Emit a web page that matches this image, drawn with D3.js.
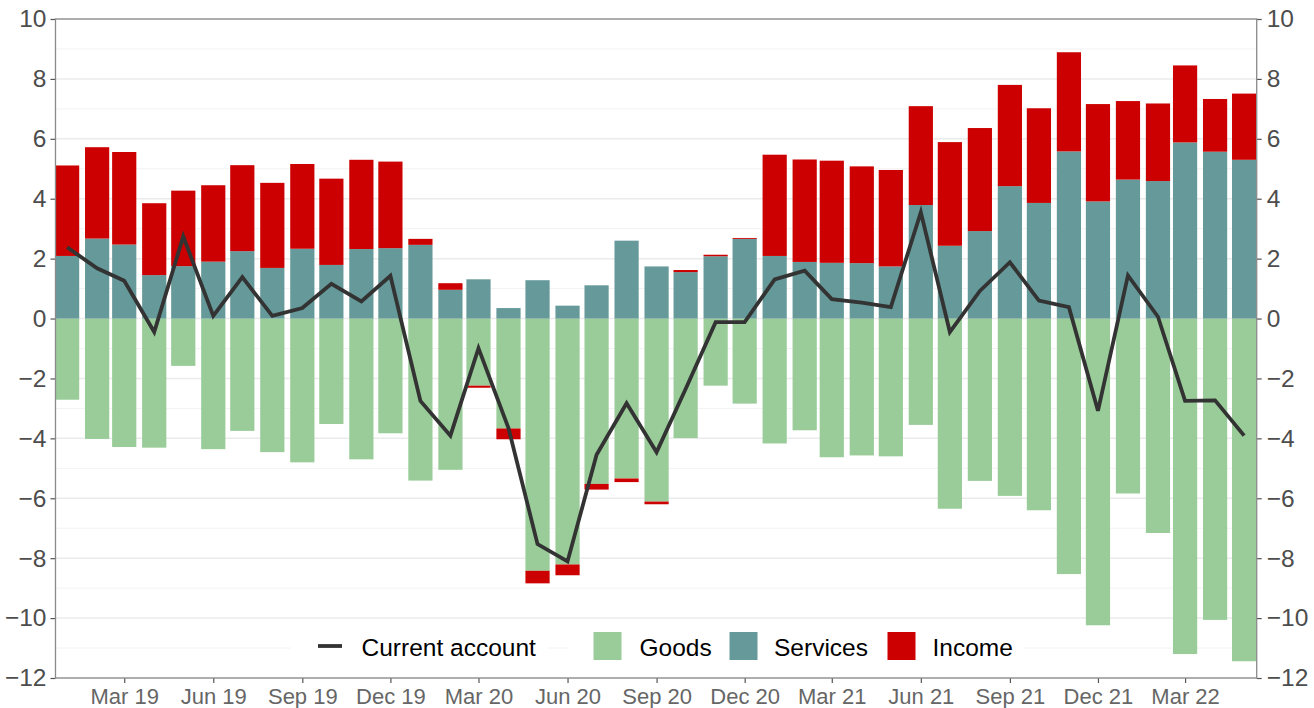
<!DOCTYPE html>
<html>
<head>
<meta charset="utf-8">
<script src="https://cdn.jsdelivr.net/npm/d3@7"></script>
<style>
  body { margin: 0; background: #fff; }
  svg { display: block; font-family: "Liberation Sans", Arial, sans-serif; }
</style>
</head>
<body>
<div id="chart"></div>
<script>
var WIDTH = 1314, HEIGHT = 708;

// monthly data, Jan 2019 - May 2022 (% of GDP)
var months = [
  "2019-01","2019-02","2019-03","2019-04","2019-05","2019-06","2019-07","2019-08","2019-09","2019-10","2019-11","2019-12",
  "2020-01","2020-02","2020-03","2020-04","2020-05","2020-06","2020-07","2020-08","2020-09","2020-10","2020-11","2020-12",
  "2021-01","2021-02","2021-03","2021-04","2021-05","2021-06","2021-07","2021-08","2021-09","2021-10","2021-11","2021-12",
  "2022-01","2022-02","2022-03","2022-04","2022-05"
];
var goods = [
  -2.71, -4.02, -4.29, -4.31, -1.58, -4.36, -3.75, -4.46, -4.80, -3.52, -4.70, -3.83,
  -5.41, -5.05, -2.24, -3.67, -8.42, -8.21, -5.52, -5.34, -6.11, -3.99, -2.24, -2.84,
  -4.17, -3.73, -4.63, -4.57, -4.60, -3.55, -6.35, -5.42, -5.92, -6.40, -8.53, -10.24,
  -5.84, -7.16, -11.20, -10.06, -11.44
];
var services = [
  2.09, 2.67, 2.47, 1.45, 1.75, 1.90, 2.25, 1.69, 2.33, 1.79, 2.32, 2.35,
  2.46, 0.96, 1.31, 0.35, 1.28, 0.43, 1.11, 2.60, 1.74, 1.55, 2.08, 2.66,
  2.09, 1.89, 1.86, 1.85, 1.74, 3.79, 2.43, 2.92, 4.42, 3.86, 5.58, 3.91,
  4.64, 4.59, 5.88, 5.57, 5.30
];
var income = [
  3.02, 3.05, 3.09, 2.40, 2.52, 2.55, 2.87, 2.84, 2.83, 2.88, 2.98, 2.89,
  0.20, 0.22, -0.07, -0.36, -0.42, -0.36, -0.19, -0.12, -0.09, 0.07, 0.05, 0.03,
  3.38, 3.42, 3.41, 3.23, 3.22, 3.30, 3.46, 3.44, 3.38, 3.16, 3.31, 3.25,
  2.62, 2.59, 2.57, 1.76, 2.21
];
var currentAccount = [
  2.38, 1.68, 1.26, -0.45, 2.74, 0.09, 1.38, 0.09, 0.35, 1.16, 0.57, 1.43,
  -2.75, -3.91, -0.99, -3.66, -7.53, -8.11, -4.55, -2.83, -4.46, -2.35, -0.12, -0.12,
  1.31, 1.60, 0.65, 0.53, 0.38, 3.55, -0.45, 0.92, 1.88, 0.60, 0.38, -3.08,
  1.44, 0.06, -2.75, -2.73, -3.91
];
var seriesNames = ["Goods", "Services", "Income"];
var seriesColors = ["#99cc99", "#669999", "#cc0000"];
var xTickLabels = ["2019-03","2019-06","2019-09","2019-12","2020-03","2020-06","2020-09","2020-12",
  "2021-03","2021-06","2021-09","2021-12","2022-03"];
var yTicks = [-12, -10, -8, -6, -4, -2, 0, 2, 4, 6, 8, 10];

var parseMonth = d3.timeParse("%Y-%m");

var data = months.map(function(m, i) {
  return {date: parseMonth(m), Goods: goods[i], Services: services[i], Income: income[i], ca: currentAccount[i]};
});

var plot = {left: 55.5, right: 1256.7, top: 19, bottom: 678};

var svg = d3.select("#chart").append("svg")
  .attr("width", WIDTH)
  .attr("height", HEIGHT);

svg.append("rect").attr("width", WIDTH).attr("height", HEIGHT).attr("fill", "#fff");

var xScale = d3.scaleTime()
  .domain([new Date(2018, 11, 20), new Date(2022, 4, 14)])
  .range([plot.left, plot.right]);
var yScale = d3.scaleLinear()
  .domain([-12, 10])
  .range([plot.bottom, plot.top]);

var barW = xScale(new Date(2019, 0, 26)) - xScale(new Date(2019, 0, 1));

// gridlines
var minor = d3.range(-11, 10, 2);
svg.append("g").selectAll("line").data(minor).join("line")
  .attr("x1", plot.left).attr("x2", plot.right)
  .attr("y1", d => yScale(d)).attr("y2", d => yScale(d))
  .attr("stroke", "#f2f2f2").attr("stroke-width", 1);
svg.append("g").selectAll("line").data(yTicks).join("line")
  .attr("x1", plot.left).attr("x2", plot.right)
  .attr("y1", d => yScale(d)).attr("y2", d => yScale(d))
  .attr("stroke", "#ebebeb").attr("stroke-width", 1.5);

// stacked bars
var stack = d3.stack().keys(seriesNames).offset(d3.stackOffsetDiverging);
var layers = stack(data);

svg.append("g").selectAll("g").data(layers).join("g")
  .attr("fill", (d, i) => seriesColors[i])
  .selectAll("rect").data(d => d).join("rect")
  .attr("x", d => xScale(d.data.date) - barW / 2)
  .attr("width", barW)
  .attr("y", d => yScale(Math.max(d[0], d[1])))
  .attr("height", d => Math.abs(yScale(d[0]) - yScale(d[1])));

// current account line
var line = d3.line()
  .x(d => xScale(d.date))
  .y(d => yScale(d.ca));

svg.append("path")
  .attr("d", line(data))
  .attr("fill", "none")
  .attr("stroke", "#333333")
  .attr("stroke-width", 3.8)
  .attr("stroke-linejoin", "miter");

// legend (two boxes, as in the original)
var lg = svg.append("g");
lg.append("rect").attr("x", 290).attr("y", 627).attr("width", 258).attr("height", 42).attr("fill", "#fff");
lg.append("rect").attr("x", 567).attr("y", 627).attr("width", 456).attr("height", 42).attr("fill", "#fff");
lg.append("line").attr("x1", 318).attr("x2", 342).attr("y1", 646).attr("y2", 646)
  .attr("stroke", "#333333").attr("stroke-width", 3.8);
lg.append("text").attr("x", 361.5).attr("y", 655.5).attr("font-size", 24.5).attr("fill", "#000").text("Current account");

var swatchX = [593.5, 729.5, 887.5];
var labelX = [639.5, 774, 932.5];
seriesNames.forEach(function(name, i) {
  lg.append("rect").attr("x", swatchX[i]).attr("y", 632).attr("width", 28).attr("height", 28)
    .attr("fill", seriesColors[i]);
  lg.append("text").attr("x", labelX[i]).attr("y", 655.5).attr("font-size", 24.5).attr("fill", "#000").text(name);
});

// axes
var yAxisL = svg.append("g")
  .attr("transform", "translate(" + plot.left + ",0)")
  .call(d3.axisLeft(yScale).tickValues(yTicks).tickSize(5).tickPadding(4))
  .call(g => g.select(".domain").remove());
var yAxisR = svg.append("g")
  .attr("transform", "translate(" + plot.right + ",0)")
  .call(d3.axisRight(yScale).tickValues(yTicks).tickSize(5).tickPadding(5))
  .call(g => g.select(".domain").remove());
var xAxis = svg.append("g")
  .attr("transform", "translate(0," + plot.bottom + ")")
  .call(d3.axisBottom(xScale).tickValues(xTickLabels.map(parseMonth))
    .tickFormat(d3.timeFormat("%b %y")).tickSize(5).tickPadding(5.5))
  .call(g => g.select(".domain").remove());

[yAxisL, yAxisR].forEach(function(ax) {
  ax.selectAll("text").attr("font-size", 24.5).attr("fill", "#4d4d4d").attr("font-family", "Liberation Sans, Arial, sans-serif");
  ax.selectAll("line").attr("stroke", "#555").attr("stroke-width", 1.2);
});
xAxis.selectAll("text").attr("font-size", 22).attr("fill", "#666").attr("font-family", "Liberation Sans, Arial, sans-serif");
xAxis.selectAll("line").attr("stroke", "#555").attr("stroke-width", 1.2);

// panel border
svg.append("rect")
  .attr("x", plot.left).attr("y", plot.top)
  .attr("width", plot.right - plot.left).attr("height", plot.bottom - plot.top)
  .attr("fill", "none").attr("stroke", "#8a8a8a").attr("stroke-width", 1.3);
</script>
</body>
</html>
